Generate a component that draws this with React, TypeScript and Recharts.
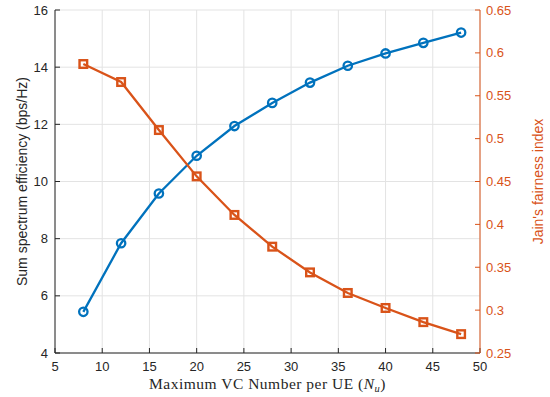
import React from "react";
import { ComposedChart, Line, XAxis, YAxis, CartesianGrid, Label } from "recharts";

const vcNumbers = [8, 12, 16, 20, 24, 28, 32, 36, 40, 44, 48];
const sumSpectrumEfficiency = [5.44, 7.84, 9.58, 10.9, 11.94, 12.75, 13.46, 14.05, 14.48, 14.85, 15.21];
const jainFairness = [0.587, 0.566, 0.51, 0.456, 0.411, 0.374, 0.344, 0.32, 0.3025, 0.286, 0.272];
const xTicks = [5, 10, 15, 20, 25, 30, 35, 40, 45, 50];
const leftTicks = [4, 6, 8, 10, 12, 14, 16];
const rightTicks = [0.25, 0.3, 0.35, 0.4, 0.45, 0.5, 0.55, 0.6, 0.65];

const data = vcNumbers.map((x, i) => ({ x, se: sumSpectrumEfficiency[i], jfi: jainFairness[i] }));

const BLUE = "#0072BD";
const ORANGE = "#D95319";
const DARK = "#262626";
const GRID = "#e3e3e3";
const SANS = "'Liberation Sans', Arial, Helvetica, sans-serif";
const SERIF = "'Liberation Serif', 'Times New Roman', serif";

const CircleDot = (props: any) => {
  const { cx, cy, index } = props;
  if (cx == null || cy == null) return <g key={index} />;
  return <circle key={index} cx={cx} cy={cy} r={4.2} fill="none" stroke={BLUE} strokeWidth={2.3} />;
};

const SquareDot = (props: any) => {
  const { cx, cy, index } = props;
  if (cx == null || cy == null) return <g key={index} />;
  return <rect key={index} x={cx - 3.8} y={cy - 3.8} width={7.6} height={7.6} fill="none" stroke={ORANGE} strokeWidth={2.4} />;
};

const fmtRight = (v: number) => String(parseFloat(v.toFixed(2)));

export default function App() {
  return (
    <div style={{ position: "absolute", left: 0, top: 0, background: "#fff" }}>
      <ComposedChart width={550} height={397} data={data} margin={{ top: 10, right: 0, bottom: 0, left: 0 }}>
        <CartesianGrid xAxisId="bottom" yAxisId="left" stroke={GRID} strokeWidth={1} />
        <XAxis
          xAxisId="top"
          orientation="top"
          type="number"
          dataKey="x"
          domain={[5, 50]}
          ticks={xTicks}
          height={0}
          tick={false}
          tickSize={-5}
          axisLine={{ stroke: DARK }}
          tickLine={{ stroke: DARK }}
        />
        <XAxis
          xAxisId="bottom"
          type="number"
          dataKey="x"
          domain={[5, 50]}
          ticks={xTicks}
          height={44}
          tickSize={-5}
          tickMargin={14}
          axisLine={{ stroke: DARK }}
          tickLine={{ stroke: DARK }}
          tick={{ fill: DARK, fontSize: 13, fontFamily: SANS }}
          interval={0}
        >
          <Label
            content={(p: any) => {
              const vb = p.viewBox || {};
              const cx = vb.x + vb.width / 2;
              return (
                <text x={cx} y={vb.y + 36} textAnchor="middle" fill={DARK} fontFamily={SERIF} fontSize={15.5} letterSpacing={0.5}>
                  Maximum VC Number per UE (
                  <tspan fontStyle="italic">N</tspan>
                  <tspan fontStyle="italic" fontSize={10.5} dy={3}>u</tspan>
                  <tspan dy={-3}>)</tspan>
                </text>
              );
            }}
          />
        </XAxis>
        <YAxis
          yAxisId="left"
          type="number"
          domain={[4, 16]}
          ticks={leftTicks}
          width={55}
          tickSize={-5}
          tickMargin={12}
          axisLine={{ stroke: DARK }}
          tickLine={{ stroke: DARK }}
          tick={{ fill: DARK, fontSize: 13, fontFamily: SANS }}
          interval={0}
        >
          <Label
            content={(p: any) => {
              const vb = p.viewBox || {};
              const cx = vb.x + 22;
              const cy = vb.y + vb.height / 2;
              return (
                <text x={cx} y={cy} textAnchor="middle" dominantBaseline="central" fill={DARK} fontFamily={SANS} fontSize={14} transform={`rotate(-90 ${cx} ${cy})`}>
                  Sum spectrum efficiency (bps/Hz)
                </text>
              );
            }}
          />
        </YAxis>
        <YAxis
          yAxisId="right"
          orientation="right"
          type="number"
          domain={[0.25, 0.65]}
          ticks={rightTicks}
          width={70}
          tickSize={-5}
          tickMargin={11}
          tickFormatter={fmtRight}
          axisLine={{ stroke: ORANGE }}
          tickLine={{ stroke: ORANGE }}
          tick={{ fill: ORANGE, fontSize: 13, fontFamily: SANS }}
          interval={0}
        >
          <Label
            content={(p: any) => {
              const vb = p.viewBox || {};
              const cx = vb.x + 58;
              const cy = vb.y + vb.height / 2;
              return (
                <text x={cx} y={cy} textAnchor="middle" dominantBaseline="central" fill={ORANGE} fontFamily={SANS} fontSize={14} transform={`rotate(-90 ${cx} ${cy})`}>
                  Jain's fairness index
                </text>
              );
            }}
          />
        </YAxis>
        <Line
          xAxisId="bottom"
          yAxisId="left"
          type="linear"
          dataKey="se"
          stroke={BLUE}
          strokeWidth={2.3}
          dot={<CircleDot />}
          activeDot={false}
          isAnimationActive={false}
        />
        <Line
          xAxisId="bottom"
          yAxisId="right"
          type="linear"
          dataKey="jfi"
          stroke={ORANGE}
          strokeWidth={2.3}
          dot={<SquareDot />}
          activeDot={false}
          isAnimationActive={false}
        />
      </ComposedChart>
    </div>
  );
}
